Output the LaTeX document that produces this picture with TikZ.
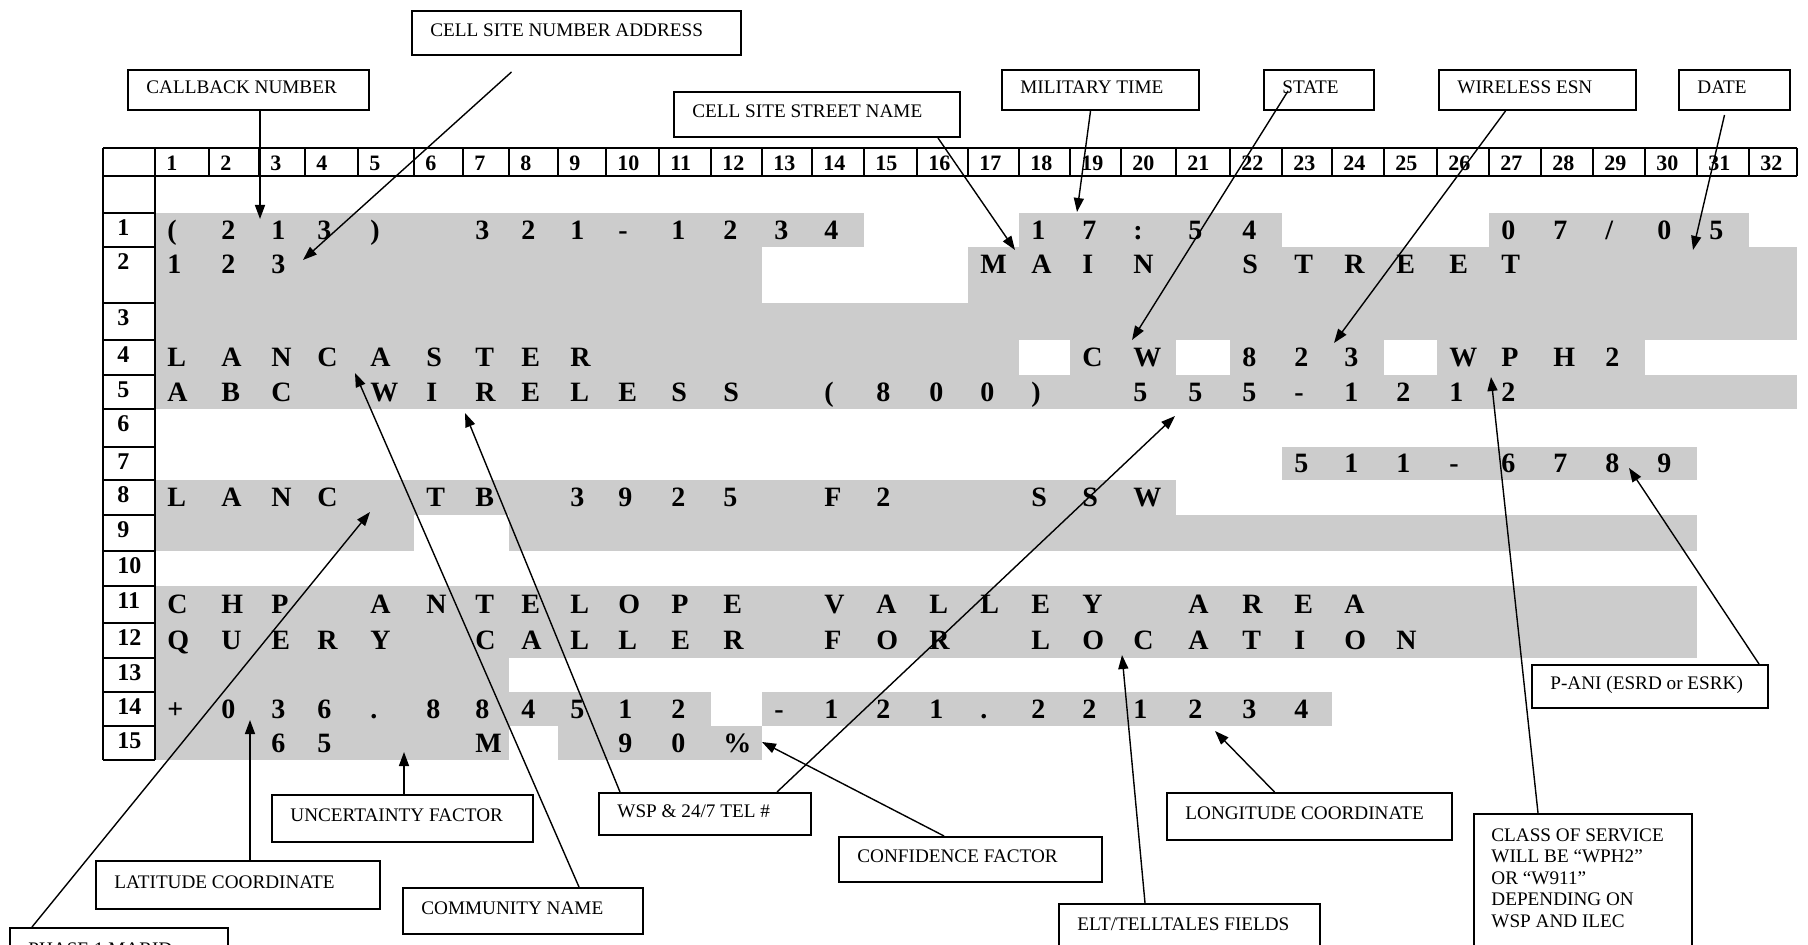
\documentclass[tikz,border=0pt]{standalone}
\usepackage{fontspec}
\setmainfont{Liberation Serif}
\usetikzlibrary{arrows.meta,calc}

\definecolor{cellgray}{HTML}{CCCCCC}
\newcommand\gridfont{\fontsize{14}{16}\selectfont\bfseries}
\newcommand\hdrfont{\fontsize{11}{12}\selectfont\bfseries}
\newcommand\lblfont{\fontsize{12}{13}\selectfont\bfseries}
\newcommand\boxfont{\fontsize{9.6}{10.8}\selectfont}
\def\colx{{103,155,209,259,305,358,414,463,509,558,606,659,711,762,812,864,917,968,1019,1070,1121,1176,1230,1282,1332,1384,1437,1489,1541,1593,1645,1697,1749,1797}}

\tikzset{
  cell/.style={inner sep=0pt, anchor=west, text height=9.3pt, text depth=0pt, font=\gridfont},
  hdr/.style={inner sep=0pt, anchor=west, text height=7.5pt, text depth=0pt, font=\hdrfont},
  rowlbl/.style={inner sep=0pt, anchor=west, text height=8.2pt, text depth=0pt, font=\lblfont},
  tbl/.style={line width=1pt},
  callbox/.style={draw, line width=1pt, inner sep=0pt, anchor=north west},
  txt/.style={label={[anchor=west, xshift=9.5pt, yshift=1.5pt, inner sep=0pt, text height=6.4pt, text depth=0pt, font=\boxfont]west:#1}},
  arr/.style={-{Triangle[length=7pt,width=5pt]}, line width=0.7pt},
}

\begin{document}
\begin{tikzpicture}[x=0.5pt, y=-0.5pt]
  \useasboundingbox (0,0) rectangle (1808,945);
  \clip (0,0) rectangle (1808,945);
  \fill[white] (0,0) rectangle (1808,945);

  % shaded fields
  \foreach \xa/\ya/\xb/\yb in {155/213/864/247, 1019/213/1282/247, 1489/213/1749/247,
      155/247/762/303, 968/247/1797/303, 155/303/1797/340,
      155/340/1019/375, 1070/340/1176/375, 1230/340/1384/375, 1437/340/1645/375,
      155/375/1797/409, 1282/447/1697/480, 155/480/1176/515,
      155/515/414/551, 509/515/1697/551, 155/586/1697/658, 155/658/509/692,
      155/692/711/726, 762/692/1332/726, 155/726/509/760, 558/726/762/760}
    \fill[cellgray] (\xa,\ya) rectangle (\xb,\yb);

  % header row
  \foreach \c in {0,...,33}{
    \pgfmathsetmacro\cx{\colx[\c]}
    \draw[tbl] (\cx,148) -- (\cx,176);
  }
  \draw[tbl] (103,148) -- (1797,148) (103,176) -- (1797,176);
  \foreach \c in {1,...,32}{
    \pgfmathsetmacro\cx{\colx[\c]+11}
    \node[hdr] (h\c) at (\cx,163.5) {\c};
  }

  % row numbers
  \draw[tbl] (103,148) -- (103,760) (155,148) -- (155,760);
  \foreach \yy in {176,213,247,303,340,375,409,447,480,515,551,586,623,658,692,726,760}
    \draw[tbl] (103,\yy) -- (155,\yy);
  \foreach \r/\yy in {1/213,2/247,3/303,4/340,5/375,6/409,7/447,8/480,9/515,10/551,11/586,12/623,13/658,14/692,15/726}
    \node[rowlbl] (l\r) at (117,\yy+14.5) {\r};

  % record contents
  \foreach \r/\yy/\cstart/\chars in {
      1/230/1/{{(},2,1,3,{)},{},3,2,1,-,1,2,3,4},
      1/230/18/{1,7,:,5,4},
      1/230/27/{0,7,/,0,5},
      2/264/1/{1,2,3},
      2/264/17/{M,A,I,N,{},S,T,R,E,E,T},
      4/357.5/1/{L,A,N,C,A,S,T,E,R},
      4/357.5/19/{C,W,{},8,2,3,{},W,P,H,2},
      5/392/1/{A,B,C,{},W,I,R,E,L,E,S,S,{},{(},8,0,0,{)},{},5,5,5,-,1,2,1,2},
      7/463.5/23/{5,1,1,-,6,7,8,9},
      8/497.5/1/{L,A,N,C,{},T,B,{},3,9,2,5,{},F,2,{},{},S,S,W},
      11/604.5/1/{C,H,P,{},A,N,T,E,L,O,P,E,{},V,A,L,L,E,Y,{},A,R,E,A},
      12/640/1/{Q,U,E,R,Y,{},C,A,L,L,E,R,{},F,O,R,{},L,O,C,A,T,I,O,N},
      14/709/1/{+,0,3,6,{.},8,8,4,5,1,2,{},-,1,2,1,{.},2,2,1,2,3,4},
      15/743/3/{6,5,{},{},M,{},{},9,0,{\%}}}{
    \foreach \ch [count=\c from \cstart] in \chars{
      \pgfmathsetmacro\cx{\colx[\c]+12}
      \node[cell] (r\r-\c) at (\cx,\yy) {\ch};
    }
  }

  % callout boxes
  \node[callbox, minimum width=164.5pt, minimum height=22pt, txt={CELL SITE NUMBER ADDRESS}] (addr) at (411,10) {};
  \node[callbox, minimum width=120.5pt, minimum height=20pt, txt={CALLBACK NUMBER}] (callback) at (127,69) {};
  \node[callbox, minimum width=143pt, minimum height=22.5pt, txt={CELL SITE STREET NAME}] (street) at (673,91) {};
  \node[callbox, minimum width=98.5pt, minimum height=20pt, txt={MILITARY TIME}] (miltime) at (1001,69) {};
  \node[callbox, minimum width=55pt, minimum height=20pt, txt={STATE}] (state) at (1263,69) {};
  \node[callbox, minimum width=98.5pt, minimum height=20pt, txt={WIRELESS ESN}] (esn) at (1438,69) {};
  \node[callbox, minimum width=55.5pt, minimum height=20pt, txt={DATE}] (date) at (1678,69) {};
  \node[callbox, minimum width=118pt, minimum height=21.5pt, txt={P-ANI (ESRD or ESRK)}] (pani) at (1531,664) {};
  \node[callbox, minimum width=130.5pt, minimum height=23.5pt, txt={UNCERTAINTY FACTOR}] (uncert) at (271,794) {};
  \node[callbox, minimum width=142pt, minimum height=24pt, txt={LATITUDE COORDINATE}] (lat) at (95,860) {};
  \node[callbox, minimum width=120pt, minimum height=23pt, txt={COMMUNITY NAME}] (comm) at (402,887) {};
  \node[callbox, minimum width=109pt, minimum height=24pt, txt={PHASE 1 MARID}] (marid) at (9,927) {};
  \node[callbox, minimum width=106pt, minimum height=21pt, txt={WSP \& 24/7 TEL \#}] (wsp) at (598,792) {};
  \node[callbox, minimum width=131.5pt, minimum height=22.5pt, txt={CONFIDENCE FACTOR}] (conf) at (838,836) {};
  \node[callbox, minimum width=142.5pt, minimum height=23.5pt, txt={LONGITUDE COORDINATE}] (longc) at (1166,792) {};
  \node[callbox, minimum width=130.5pt, minimum height=23.5pt, txt={ELT/TELLTALES FIELDS}] (elt) at (1058,903) {};
  \node[callbox, minimum width=109pt, minimum height=80pt,
    label={[anchor=north west, xshift=9pt, yshift=-7.5pt, inner sep=0pt, align=left, font=\boxfont]north west:CLASS OF SERVICE\\WILL BE “WPH2”\\OR “W911”\\DEPENDING ON\\WSP AND ILEC}] (cos) at (1473,813) {};

  % arrow tips
  \coordinate (cbtip) at (260,219);
  \coordinate (addrtip) at (303,260);
  \coordinate (streettip) at (1015,250);
  \coordinate (timetip) at (1077,212);
  \coordinate (statetip) at (1132,340);
  \coordinate (esntip) at (1334,343);
  \coordinate (datetip) at (1693,250);
  \coordinate (panitip) at (1629,468);
  \coordinate (costip) at (1491,377);
  \coordinate (longtip) at (1215,731);
  \coordinate (elttip) at (1122,655);
  \coordinate (conftip) at (762,742);
  \coordinate (wsptipa) at (1175,416);
  \coordinate (wsptipb) at (465,413);
  \coordinate (commtip) at (355,373);
  \coordinate (uftip) at (404,752);
  \coordinate (lattip) at (250,720);
  \coordinate (maridtip) at (370,512);

  \draw[arr] (callback.south -| cbtip) -- (cbtip);
  \draw[arr] ($(addr.south)+(-65,16)$) -- (addrtip);
  \draw[arr] ($(street.south east)+(-23,0)$) -- (streettip);
  \draw[arr] ($(miltime.south)+(-10,0)$) -- (timetip);
  \draw[arr] ($(state.center)+(-31,1)$) -- (statetip);
  \draw[arr] ($(esn.south)+(-32,0)$) -- (esntip);
  \draw[arr] ($(date.south)+(-10,4)$) -- (datetip);
  \draw[arr] ($(pani.north east)+(-10,0)$) -- (panitip);
  \draw[arr] ($(cos.north west)+(65,0)$) -- (costip);
  \draw[arr] ($(longc.north)+(-35,0)$) -- (longtip);
  \draw[arr] ($(elt.north west)+(87,0)$) -- (elttip);
  \draw[arr] ($(conf.north west)+(106,0)$) -- (conftip);
  \draw[arr] ($(wsp.north east)+(-35,0)$) -- (wsptipa);
  \draw[arr] ($(wsp.north west)+(22,0)$) -- (wsptipb);
  \draw[arr] ($(comm.north east)+(-65,0)$) -- (commtip);
  \draw[arr] (uncert.north -| uftip) -- (uftip);
  \draw[arr] (lat.north -| lattip) -- (lattip);
  \draw[arr] ($(marid.north west)+(23,0)$) -- (maridtip);
\end{tikzpicture}
\end{document}
